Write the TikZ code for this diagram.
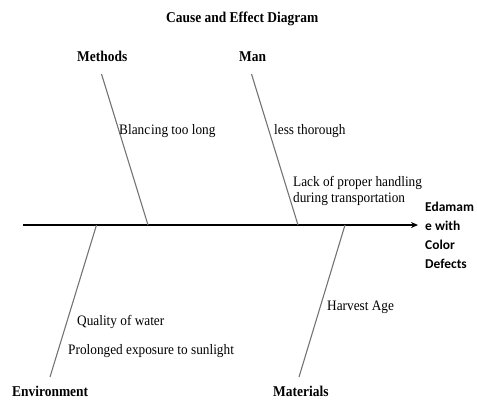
\documentclass[tikz,border=0pt]{standalone}
\usepackage{fontspec}
\setmainfont{Liberation Serif}
\newfontfamily\catfont[FakeStretch=0.9]{Liberation Serif}
\newfontfamily\txtfont[FakeStretch=0.92]{Liberation Serif}
\newfontfamily\efffont{Carlito}
\usetikzlibrary{arrows.meta}
\tikzset{
  bone/.style={draw=black!55, line width=1.1pt},
  spine/.style={draw=black, line width=1.6pt, -{Stealth[length=7pt,width=6pt]}},
  cat/.style={anchor=base west, inner sep=0pt, font=\catfont\bfseries\fontsize{15}{17}\selectfont},
  cause/.style={anchor=base west, inner sep=0pt, font=\txtfont\fontsize{14.5}{16}\selectfont},
  effline/.style={anchor=base west, inner sep=0pt, font=\efffont\bfseries\fontsize{13.5}{15}\selectfont},
}
\begin{document}
\begin{tikzpicture}[x=1bp,y=-1bp]
\useasboundingbox (0,0) rectangle (477,401);
% title
\node[cat] (title) at (166,22.5) {Cause and Effect Diagram};
% category labels
\node[cat] (methods) at (77,61.5) {Methods};
\node[cat] (man) at (239,61.5) {Man};
\node[cat] (env) at (12,396) {Environment};
\node[cat] (mat) at (273,396) {Materials};
% spine
\coordinate (tail) at (23,225);
\coordinate (head) at (418,225);
\draw[spine] (tail) -- (head);
% effect
\node[effline] (eff1) at (425,211) {Edamam};
\node[effline] (eff2) at (425,230) {e with};
\node[effline] (eff3) at (425,249) {Color};
\node[effline] (eff4) at (425,268) {Defects};
% bones
\coordinate (m1) at (101.5,74);
\coordinate (m2) at (148,225);
\coordinate (n1) at (251.5,74);
\coordinate (n2) at (298,225);
\coordinate (e1) at (96.5,225);
\coordinate (e2) at (50,377);
\coordinate (t1) at (345,225);
\coordinate (t2) at (299,377);
\draw[bone] (m1) -- (m2);
\draw[bone] (n1) -- (n2);
\draw[bone] (e1) -- (e2);
\draw[bone] (t1) -- (t2);
% causes
\node[cause] (c1) at (119,134) {Blanc\kern1pt ing too long};
\node[cause] (c2) at (274,134) {less thorough};
\node[cause] (c3) at (293,186) {Lack of proper handling};
\node[cause] (c4) at (293,202) {during transportation};
\node[cause] (c5) at (77,325) {Quality of water};
\node[cause] (c6) at (68,354) {Prolonged exposure to sunlight};
\node[cause] (c7) at (327,310) {Harvest Age};
\end{tikzpicture}
\end{document}
